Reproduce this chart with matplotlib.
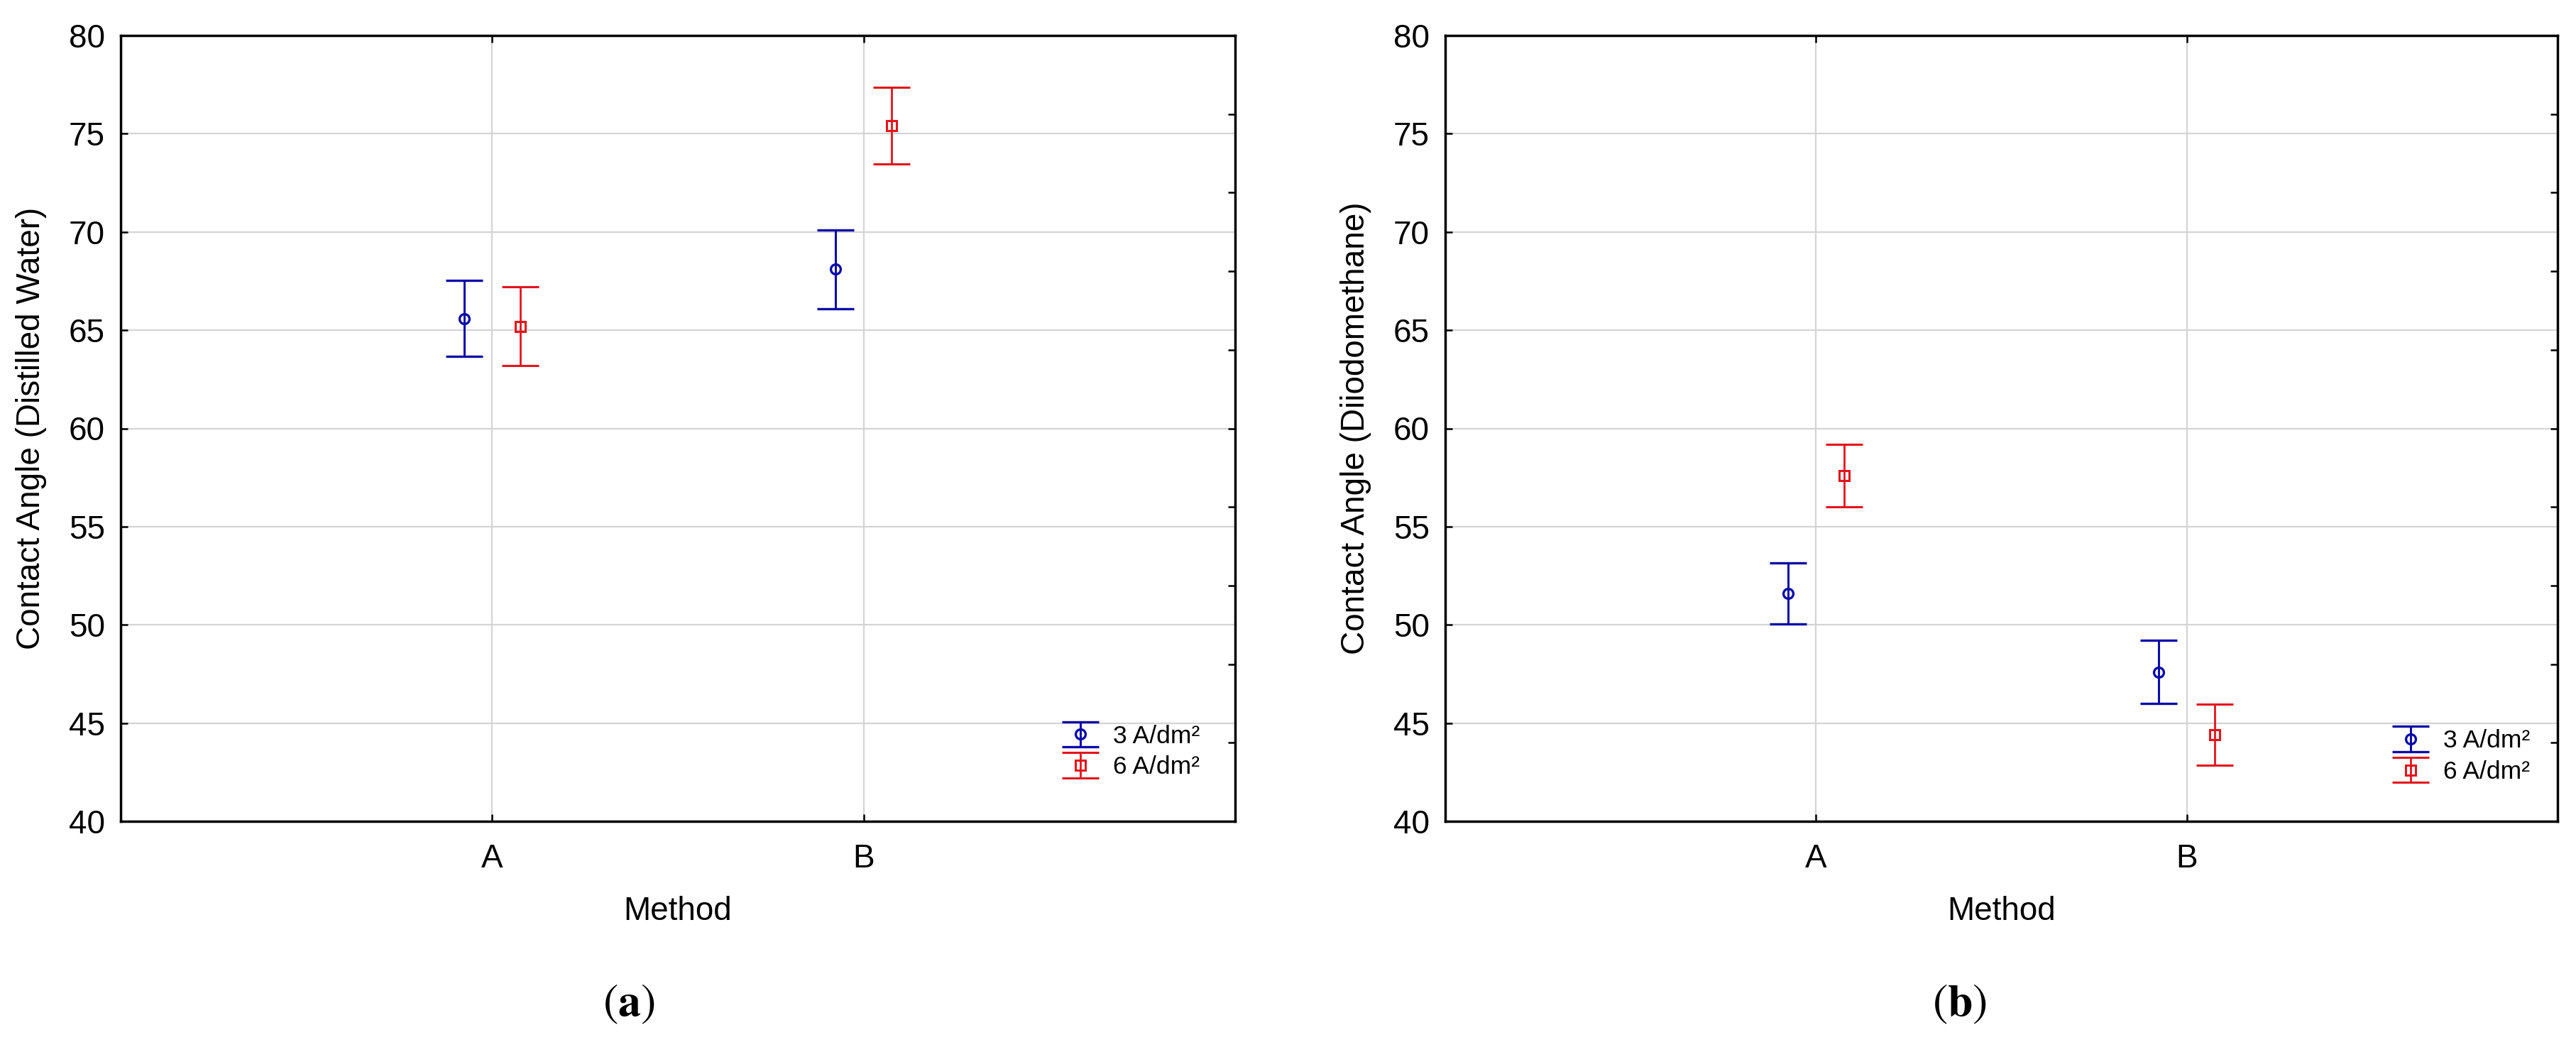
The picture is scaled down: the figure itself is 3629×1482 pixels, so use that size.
import numpy as np
import matplotlib
matplotlib.use("Agg")
import matplotlib.pyplot as plt

plt.rcParams['font.family'] = ['Liberation Sans', 'DejaVu Sans']

# data
methods = ['A', 'B']
series_labels = ['3 A/dm²', '6 A/dm²']

water_3 = [65.6, 68.1]
water_3_err = [1.95, 2.0]
water_6 = [65.2, 75.4]
water_6_err = [2.0, 1.95]

diiodo_3 = [51.6, 47.6]
diiodo_3_err = [1.55, 1.6]
diiodo_6 = [57.6, 44.4]
diiodo_6_err = [1.6, 1.55]

y_ticks = [40, 45, 50, 55, 60, 65, 70, 75, 80]
right_ticks = [44, 48, 52, 56, 60, 64, 68, 72, 76]

blue = '#0c0ca8'
red = '#e3141c'

W, H = 3629, 1482
fig = plt.figure(figsize=(W / 100, H / 100), dpi=100)


def panel(rect, v3, e3, v6, e6, ylabel, leg_xy, letter, letter_x):
    ax = fig.add_axes(rect)
    x = np.arange(1, len(methods) + 1)
    off = 0.075
    ax.errorbar(x - off, v3, yerr=e3, fmt='o', color=blue, mfc='none', mec=blue,
                ms=10, mew=2.4, elinewidth=2.2, capsize=19, capthick=2.2,
                label=series_labels[0], zorder=3)
    ax.errorbar(x + off, v6, yerr=e6, fmt='s', color=red, mfc='none', mec=red,
                ms=10, mew=2.2, elinewidth=2.0, capsize=19, capthick=2.2,
                label=series_labels[1], zorder=3)
    ax.set_xlim(0, 3)
    ax.set_ylim(40, 80)
    ax.set_xticks(x)
    ax.set_xticklabels(methods)
    ax.set_yticks(y_ticks)
    ax.grid(True, color='#d4d4d4', lw=1.6, zorder=0)
    ax.set_axisbelow(True)
    for s in ax.spines.values():
        s.set_linewidth(2.5)
    ax.tick_params(axis='both', direction='in', length=7, width=1.8,
                   labelsize=33, top=True)
    ax.tick_params(axis='y', pad=16)
    ax.tick_params(axis='x', pad=22)
    ax.set_xlabel('Method', fontsize=33, labelpad=22)
    ax.set_ylabel(ylabel, fontsize=33, labelpad=22)

    # right side ticks on their own scale, no labels
    ax2 = ax.twinx()
    ax2.set_ylim(40, 80)
    ax2.set_yticks(right_ticks)
    ax2.set_yticklabels([])
    ax2.tick_params(axis='y', direction='in', length=7, width=1.8)
    for s in ax2.spines.values():
        s.set_visible(False)

    ax.legend(loc='upper left', bbox_to_anchor=leg_xy, frameon=False,
              fontsize=25.5, handlelength=1.6, handletextpad=0.5,
              labelspacing=0.3, borderpad=0, borderaxespad=0)
    fig.text(letter_x, 1 - 1415 / H, r'$(\mathbf{' + letter + '})$',
             fontsize=46, math_fontfamily='stix', ha='center', va='center')
    return ax


bot = 1 - 1157 / H
hgt = 1107 / H
panel([170 / W, bot, 1570 / W, hgt], water_3, water_3_err, water_6, water_6_err,
      'Contact Angle (Distilled Water)', (0.843, 0.123), 'a', 886 / W)
panel([2036 / W, bot, 1567 / W, hgt], diiodo_3, diiodo_3_err, diiodo_6, diiodo_6_err,
      'Contact Angle (Diiodomethane)', (0.850, 0.117), 'b', 2761 / W)

fig.savefig('out.png', dpi=100, facecolor='white')
